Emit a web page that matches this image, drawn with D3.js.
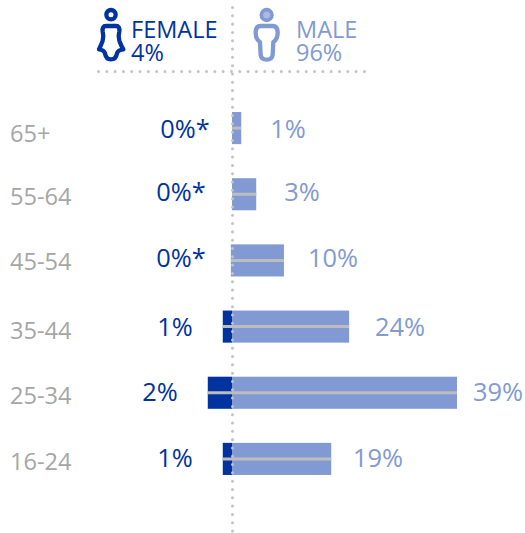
<!DOCTYPE html>
<html>
<head>
<meta charset="utf-8">
<script src="https://cdn.jsdelivr.net/npm/d3@7"></script>
<style>
  html, body { margin: 0; padding: 0; background: #fff; }
  svg { display: block; font-family: "Open Sans", sans-serif; }
</style>
</head>
<body>
<div id="chart"></div>
<script>
'use strict'

const ageGroups = ['65+', '55-64', '45-54', '35-44', '25-34', '16-24']
// bar lengths (they do not track the rounded labels exactly)
const maleValues = [1.6, 4.2, 9.0, 20.3, 39, 17.2]
const femaleValues = [0, 0, 0.2, 1.6, 4.2, 1.6]
const maleLabels = ['1%', '3%', '10%', '24%', '39%', '19%']
const femaleLabels = ['0%*', '0%*', '0%*', '1%', '2%', '1%']
const legendNames = ['FEMALE', 'MALE']
const legendTotals = ['4%', '96%']

const FEMALE_COLOR = '#0033a0'
const MALE_COLOR = '#829ad3'
const GREY_TEXT = '#a6a6a6'
const DOT_COLOR = '#c4c4c4'
const MID_LINE = '#bdbdbd'

const width = 525
const height = 533

const svg = d3.select('#chart').append('svg')
  .attr('width', width)
  .attr('height', height)

const x = d3.scaleLinear().domain([0, 39]).range([232, 457])
const y = d3.scaleBand().domain(ageGroups).range([95.5, 491.5]).paddingInner(0.515).paddingOuter(0.25)

// offsets of the value labels from the bar, by hand
const maleLabelX = [288, 302, 333, 400, 498, 378]
const femaleLabelX = [185, 181, 181, 175, 160, 175]
const labelY = [129, 192, 258, 327, 392, 458]
const ageLabelY = [133, 196, 261, 330, 395, 461]

// bars
svg.append('g').selectAll('rect.male')
  .data(ageGroups)
  .join('rect')
  .attr('class', 'male')
  .attr('x', 232)
  .attr('y', d => y(d))
  .attr('width', (d, i) => x(maleValues[i]) - 232)
  .attr('height', y.bandwidth())
  .attr('fill', MALE_COLOR)

svg.append('g').selectAll('rect.female')
  .data(ageGroups)
  .join('rect')
  .attr('class', 'female')
  .attr('x', (d, i) => 2 * 232 - x(femaleValues[i]))
  .attr('y', d => y(d))
  .attr('width', (d, i) => x(femaleValues[i]) - 232)
  .attr('height', y.bandwidth())
  .attr('fill', (d, i) => i === 2 ? MALE_COLOR : FEMALE_COLOR)

// grey line through the middle of each bar
svg.append('g').selectAll('line')
  .data(ageGroups)
  .join('line')
  .attr('x1', (d, i) => 2 * 232 - x(femaleValues[i]))
  .attr('x2', (d, i) => x(maleValues[i]))
  .attr('y1', d => y(d) + y.bandwidth() / 2)
  .attr('y2', d => y(d) + y.bandwidth() / 2)
  .attr('stroke', MID_LINE)
  .attr('stroke-width', 3)

// dotted axis and header rule
const dotted = svg.append('g')
  .attr('stroke', DOT_COLOR)
  .attr('stroke-width', 3)
  .attr('stroke-linecap', 'round')
  .attr('stroke-dasharray', '0.01 8.3')
dotted.append('line').attr('x1', 232.5).attr('x2', 232.5).attr('y1', 7.5).attr('y2', 533)
dotted.append('line').attr('x1', 98.5).attr('x2', 368).attr('y1', 71.5).attr('y2', 71.5)

// age labels
svg.append('g').selectAll('text')
  .data(ageGroups)
  .join('text')
  .attr('x', 10)
  .attr('y', (d, i) => ageLabelY[i] + 9)
  .attr('font-size', 23.6)
  .attr('fill', GREY_TEXT)
  .text(d => d)

// value labels
svg.append('g').selectAll('text.m')
  .data(maleLabels)
  .join('text')
  .attr('class', 'm')
  .attr('x', (d, i) => maleLabelX[i])
  .attr('y', (d, i) => labelY[i] + 9)
  .attr('text-anchor', 'middle')
  .attr('font-size', 25.4)
  .attr('fill', MALE_COLOR)
  .text(d => d)

svg.append('g').selectAll('text.f')
  .data(femaleLabels)
  .join('text')
  .attr('class', 'f')
  .attr('x', (d, i) => femaleLabelX[i])
  .attr('y', (d, i) => labelY[i] + 9)
  .attr('text-anchor', 'middle')
  .attr('font-size', 25.4)
  .attr('fill', FEMALE_COLOR)
  .text(d => d)

// legend, two lines in one text
const legendX = [131, 296]
const legendColors = [FEMALE_COLOR, MALE_COLOR]
const legend = svg.append('g').selectAll('text')
  .data(legendNames)
  .join('text')
  .attr('y', 38)
  .attr('font-size', 23.5)
  .attr('fill', (d, i) => legendColors[i])
legend.append('tspan')
  .attr('x', (d, i) => legendX[i])
  .attr('y', 38)
  .text(d => d)
legend.append('tspan')
  .attr('x', (d, i) => legendX[i])
  .attr('y', 61)
  .text((d, i) => legendTotals[i])

// person icons, traced in the zoomed crop's coordinates
const femaleIcon = svg.append('g')
  .attr('transform', 'translate(90,0) scale(0.3333)')
  .attr('fill', 'none')
  .attr('stroke', FEMALE_COLOR)
  .attr('stroke-width', 13)
  .attr('stroke-linejoin', 'round')
femaleIcon.append('circle').attr('cx', 63).attr('cy', 44).attr('r', 14)
femaleIcon.append('path')
  .attr('d', 'M48,78 L78,78 Q90,78 88,94 Q84,110 88,122 Q94,138 100,148 Q84,150 81,160 Q78,178 63,178 Q48,178 45,160 Q42,150 27,148 Q32,138 38,122 Q42,110 38,94 Q36,78 48,78 Z')

const maleIcon = svg.append('g')
  .attr('transform', 'translate(90,0) scale(0.3333)')
  .attr('fill', 'none')
  .attr('stroke', MALE_COLOR)
  .attr('stroke-width', 13)
  .attr('stroke-linejoin', 'round')
maleIcon.append('circle').attr('cx', 530).attr('cy', 45).attr('r', 16).attr('fill', '#a9bbe2').attr('stroke-width', 11)
maleIcon.append('path')
  .attr('d', 'M512,78 L548,78 Q563,78 563,98 Q563,118 550,126 L548,165 Q546,179 530,179 Q514,179 512,165 L510,126 Q497,118 497,98 Q497,78 512,78 Z')
</script>
</body>
</html>
